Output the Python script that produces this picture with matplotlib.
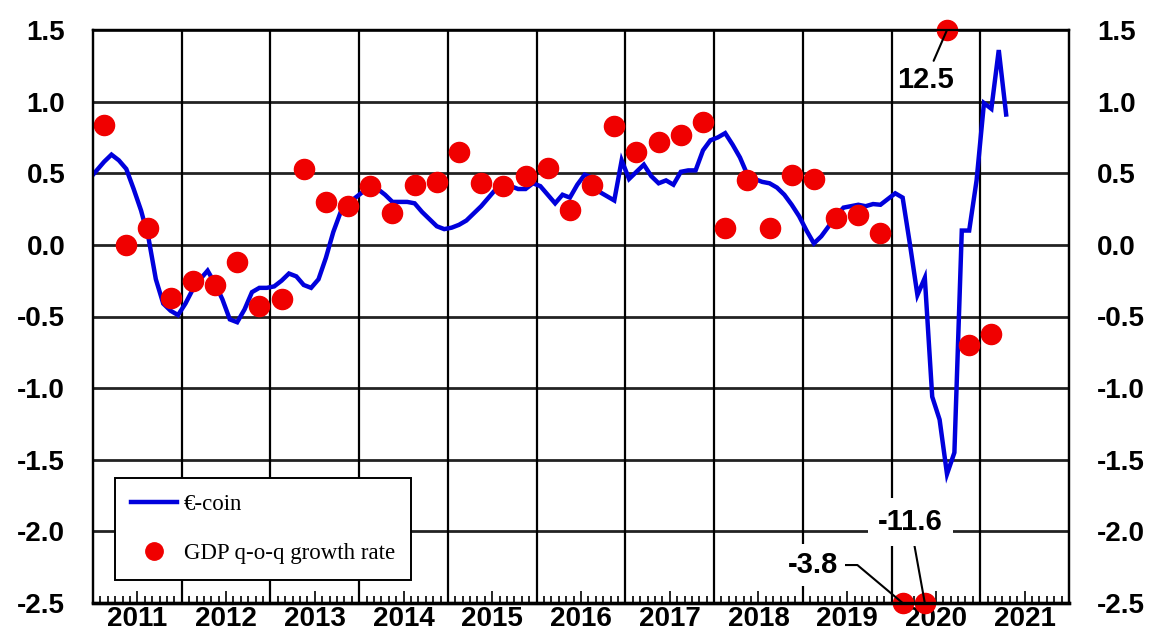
import numpy as np
import matplotlib
matplotlib.use('Agg')
import matplotlib.pyplot as plt
from matplotlib.lines import Line2D

plt.rcParams['axes.unicode_minus'] = False

# ---------------- data ----------------
years = list(range(2011, 2022))                 # labelled years
year_labels = [str(y) for y in years]
y_ticks = [-2.5, -2.0, -1.5, -1.0, -0.5, 0.0, 0.5, 1.0, 1.5]

# E-coin monthly, Dec 2010 .. Apr 2021
ecoin = [0.46,
         0.52, 0.58, 0.63, 0.59, 0.53, 0.39, 0.24, 0.05, -0.24, -0.41, -0.46, -0.49,   # 2011
         -0.41, -0.31, -0.24, -0.18, -0.27, -0.38, -0.52, -0.54, -0.45, -0.33, -0.30, -0.30,  # 2012
         -0.29, -0.25, -0.20, -0.22, -0.28, -0.30, -0.24, -0.09, 0.09, 0.23, 0.29, 0.33,  # 2013
         0.37, 0.41, 0.39, 0.35, 0.30, 0.30, 0.30, 0.29, 0.23, 0.18, 0.13, 0.11,  # 2014
         0.12, 0.14, 0.17, 0.22, 0.27, 0.33, 0.39, 0.42, 0.41, 0.39, 0.39, 0.43,  # 2015
         0.41, 0.35, 0.29, 0.35, 0.33, 0.42, 0.49, 0.47, 0.37, 0.34, 0.31, 0.59,  # 2016
         0.46, 0.51, 0.56, 0.48, 0.43, 0.45, 0.42, 0.51, 0.52, 0.52, 0.66, 0.73,  # 2017
         0.75, 0.78, 0.70, 0.61, 0.49, 0.46, 0.44, 0.43, 0.40, 0.35, 0.28, 0.20,  # 2018
         0.10, 0.01, 0.06, 0.13, 0.20, 0.26, 0.27, 0.28, 0.27, 0.285, 0.28, 0.32,  # 2019
         0.36, 0.33, 0.00, -0.35, -0.23, -1.06, -1.22, -1.60, -1.45, 0.10, 0.10, 0.45,  # 2020
         0.99, 0.95, 1.36, 0.91]  # 2021
ecoin_first_month = (2010, 12)

# GDP q-o-q growth, 2011Q1 .. 2021Q1
gdp = [0.84, 0.00, 0.12, -0.37,
       -0.25, -0.28, -0.12, -0.43,
       -0.38, 0.53, 0.30, 0.27,
       0.41, 0.22, 0.42, 0.44,
       0.65, 0.43, 0.41, 0.48,
       0.54, 0.24, 0.42, 0.83,
       0.65, 0.72, 0.77, 0.86,
       0.12, 0.45, 0.12, 0.49,
       0.46, 0.19, 0.21, 0.08,
       -3.8, -11.6, 12.5, -0.70,
       -0.62]
gdp_first_quarter = (2011, 1)

legend_labels = ['\u20ac-coin', 'GDP q-o-q growth rate']
out_of_range = {36: '-3.8', 37: '-11.6', 38: '12.5'}

# ---------------- derived positions ----------------
y0, m0 = ecoin_first_month
ex = y0 + (m0 - 0.5) / 12 + np.arange(len(ecoin)) / 12
qy, q0 = gdp_first_quarter
gx = qy + (3 * q0 - 1.5) / 12 + np.arange(len(gdp)) * 0.25
ylo, yhi = y_ticks[0], y_ticks[-1]
gdp_plot = np.clip(np.array(gdp), ylo, yhi)

BLUE = '#0000DC'
RED = '#F00000'
TICKFONT = dict(family='Liberation Sans', weight='bold', size=20)

fig = plt.figure(figsize=(11.57, 6.32), dpi=100)
ax = fig.add_axes([93/1157, 29/632, 976/1157, 573/632])
ax.set_xlim(years[0], years[-1] + 1)
ax.set_ylim(ylo, yhi)

# grid
for yv in y_ticks:
    ax.axhline(yv, color='#222222', lw=2.0, zorder=1)
for yr in years[1:]:
    ax.axvline(yr, color='black', lw=1.6, zorder=1)

# series
ax.plot(ex, ecoin, color=BLUE, lw=3.2, zorder=3, solid_joinstyle='miter')
ax.plot(gx, gdp_plot, 'o', ms=14.5, color=RED, mec=RED, clip_on=False, zorder=6)

# ticks
mid = [y + 0.5 for y in years]
ax.set_xticks(mid)
ax.set_xticklabels(year_labels, **TICKFONT)
months = [y + m / 12 for y in years for m in range(1, 12) if m != 6]
ax.set_xticks(months, minor=True)
ax.tick_params(axis='x', which='major', direction='in', length=9, width=1.2, pad=2)
ax.tick_params(axis='x', which='minor', direction='in', length=5, width=1.2)
ax.set_yticks(y_ticks)
ax.set_yticklabels([f'{v:.1f}' for v in y_ticks], **TICKFONT)
ax.tick_params(axis='y', length=0, pad=20)

ax2 = ax.twinx()
ax2.set_ylim(ylo, yhi)
ax2.set_yticks(y_ticks)
ax2.set_yticklabels([f'{v:.1f}' for v in y_ticks], **TICKFONT)
ax2.tick_params(axis='y', length=0, pad=20)
for a in (ax, ax2):
    for s in a.spines.values():
        s.set_linewidth(1.6)
        s.set_color('black')
ax.spines['bottom'].set_linewidth(2.4)
ax2.spines['bottom'].set_linewidth(2.4)

# annotations for off-scale values
afont = dict(family='Liberation Sans', weight='bold', size=21)
ax.annotate(out_of_range[38], xy=(gx[38], gdp_plot[38]), xytext=(2020.38, 1.15),
            ha='center', va='center', **afont,
            arrowprops=dict(arrowstyle='-', color='black', lw=1.5, shrinkA=2, shrinkB=0),
            zorder=7, annotation_clip=False)
ax.annotate(out_of_range[36], xy=(gx[36], gdp_plot[36]), xytext=(2019.11, -2.235),
            ha='center', va='center', **afont,
            bbox=dict(boxstyle='square,pad=0.25', fc='white', ec='none'),
            arrowprops=dict(arrowstyle='-', color='black', lw=1.5, shrinkA=0, shrinkB=0,
                            connectionstyle='angle,angleA=0,angleB=140,rad=0'),
            zorder=7, annotation_clip=False)
ax.annotate(out_of_range[37], xy=(gx[37], gdp_plot[37]), xytext=(2020.21, -1.934),
            ha='center', va='center', **afont,
            bbox=dict(boxstyle='square,pad=0.35', fc='white', ec='none'),
            arrowprops=dict(arrowstyle='-', color='black', lw=1.5, shrinkA=0, shrinkB=0),
            zorder=7, annotation_clip=False)

# legend
handles = [Line2D([], [], color=BLUE, lw=3.2),
           Line2D([], [], ls='none', marker='o', ms=12.5, color=RED, mec=RED)]
leg = ax.legend(handles, legend_labels, loc='lower left', bbox_to_anchor=(0.0225, 0.040),
                borderaxespad=0, frameon=True, fancybox=False, framealpha=1,
                edgecolor='black', prop=dict(family='Liberation Serif', size=16.5),
                handlelength=2.0, handletextpad=0.3, labelspacing=1.2, borderpad=0.7)
leg.get_frame().set_linewidth(1.4)
leg.set_zorder(8)

fig.savefig('out.png', dpi=100)
